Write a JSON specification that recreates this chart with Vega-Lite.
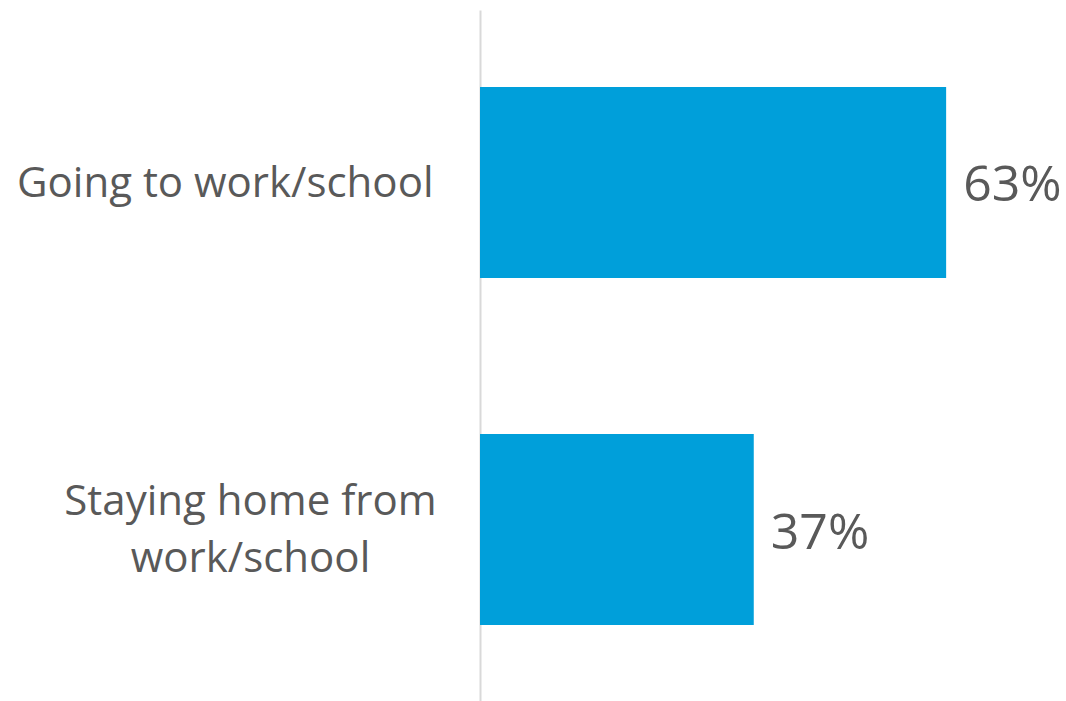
{
  "$schema": "https://vega.github.io/schema/vega-lite/v6.json",
  "width": 586,
  "height": 692,
  "autosize": "none",
  "padding": {"left": 480, "top": 10, "right": 0, "bottom": 0},
  "background": "white",
  "config": {"view": {"stroke": null}},
  "data": {
    "values": [
      {"category": "Going to work/school", "share": 0.63},
      {"category": "Staying home from work/school", "share": 0.37}
    ]
  },
  "encoding": {
    "y": {
      "field": "category",
      "type": "nominal",
      "sort": null,
      "scale": {"paddingInner": 0.45, "paddingOuter": 0.222},
      "axis": {
        "title": null,
        "ticks": false,
        "domain": true,
        "domainColor": "#d9d9d9",
        "domainWidth": 2,
        "labelFont": "Open Sans",
        "labelFontSize": 42,
        "labelColor": "#595959",
        "labelLineHeight": 57,
        "labelBaseline": "middle",
        "labelLimit": 0,
        "labelAlign": {"condition": {"test": "datum.value == 'Going to work/school'", "value": "right"}, "value": "center"},
        "labelPadding": {"condition": {"test": "datum.value == 'Going to work/school'", "value": 47}, "value": 230},
        "labelOffset": {"condition": {"test": "datum.value == 'Going to work/school'", "value": 2}, "value": -28},
        "labelExpr": "datum.value == 'Staying home from work/school' ? ['Staying home from', 'work/school'] : datum.label"
      }
    },
    "x": {
      "field": "share",
      "type": "quantitative",
      "scale": {"domain": [0, 0.792]},
      "axis": null
    }
  },
  "layer": [
    {"mark": {"type": "bar", "color": "#009fda"}},
    {
      "mark": {"type": "text", "align": "left", "baseline": "middle", "dx": 17, "dy": 4, "font": "Open Sans", "fontSize": 50, "color": "#595959"},
      "encoding": {"text": {"field": "share", "type": "quantitative", "format": ".0%"}}
    }
  ]
}
